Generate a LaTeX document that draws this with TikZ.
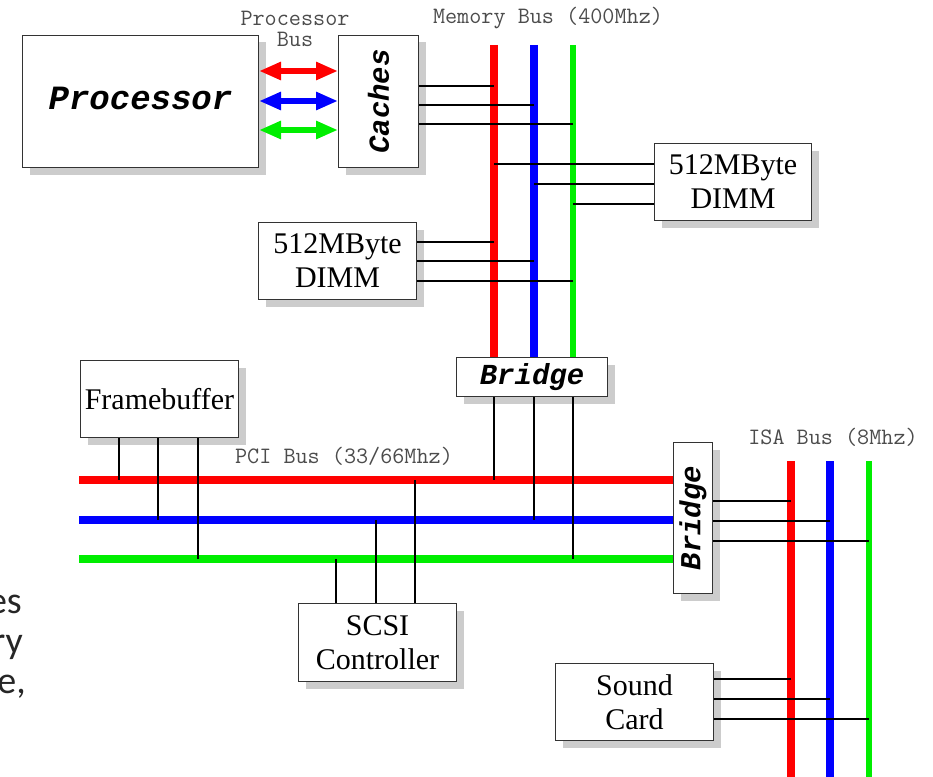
\documentclass[tikz,border=0pt]{standalone}
\usepackage{fontspec}
\setmainfont{Liberation Serif}
\newfontfamily\monofont{Liberation Mono}
\newfontfamily\fragfont{Carlito}
\usetikzlibrary{shadows,arrows.meta}
\pgfdeclarelayer{background}
\pgfsetlayers{background,main}
\definecolor{busred}{RGB}{255,0,0}
\definecolor{busblue}{RGB}{0,0,255}
\definecolor{busgreen}{RGB}{0,238,0}
\begin{document}
\begin{tikzpicture}[x=1pt,y=-1pt,
  box/.style={draw=black!80,line width=1pt,fill=white,inner sep=0pt,anchor=north west,
    drop shadow={shadow xshift=7pt,shadow yshift=-7pt,fill=black!20,opacity=1}},
  titletext/.style={font=\monofont\bfseries\itshape\fontsize{29}{30}\selectfont},
  serif/.style={font=\fontsize{30}{34}\selectfont,align=center},
  lbl/.style={font=\ttfamily\fontsize{23.5}{21}\selectfont,text=black!70,inner sep=0pt,align=center},
  bus/.style={line width=8pt},
  thinbus/.style={line width=5.5pt},
  tap/.style={line width=1.6pt,black},
  biarrow/.style={line width=6pt,{Triangle[length=22pt,width=17pt]}-{Triangle[length=22pt,width=17pt]}},
  frag/.style={font=\fragfont\fontsize{38}{40}\selectfont,text=black!85,anchor=base east,inner sep=0pt}
]
\useasboundingbox (0,0) rectangle (933,776);

% ---------- boxes ----------
\node[box,minimum width=236pt,minimum height=132pt] (proc) at (22,35) {};
\node[titletext,font=\monofont\bfseries\itshape\fontsize{34}{35}\selectfont] (proct) at ([yshift=3pt]proc.center) {Processor};
\node[box,minimum width=80pt,minimum height=132pt] (caches) at (338,35) {};
\node[titletext] (cachest) at (caches.center) {\rotatebox{90}{Caches}};
\node[box,minimum width=157pt,minimum height=77pt] (dimmR) at (654,143) {};
\node[serif] (dimmRt) at (dimmR.center) {512MByte\\DIMM};
\node[box,minimum width=158pt,minimum height=77pt] (dimmL) at (258,222) {};
\node[serif] (dimmLt) at (dimmL.center) {512MByte\\DIMM};
\node[box,minimum width=151pt,minimum height=39pt] (bridgeM) at (456,357) {};
\node[titletext] (bridgeMt) at (bridgeM.center) {Bridge};
\node[box,minimum width=158pt,minimum height=77pt] (fb) at (80,360) {};
\node[serif] (fbt) at (fb.center) {Framebuffer};
\node[box,minimum width=39pt,minimum height=151pt] (bridgeI) at (673,442) {};
\node[titletext] (bridgeIt) at (bridgeI.center) {\rotatebox{90}{Bridge}};
\node[box,minimum width=158pt,minimum height=78pt] (scsi) at (298,603) {};
\node[serif] (scsit) at (scsi.center) {SCSI\\Controller};
\node[box,minimum width=158pt,minimum height=77pt] (sound) at (555,663) {};
\node[serif] (soundt) at (sound.center) {Sound\\Card};

% ---------- labels ----------
\node[lbl] (lproc) at (295,29) {Processor\\Bus};
\node[lbl] (lmem) at (548,18) {Memory Bus (400Mhz)};
\node[lbl] (lpci) at (344,456) {PCI Bus (33/66Mhz)};
\node[lbl] (lisa) at (833,437) {ISA Bus (8Mhz)};

% ---------- partial text at left edge ----------
\node[frag] (f1) at (22,613) {es};
\node[frag] (f2) at (23,653) {ry};
\node[frag] (f3) at (26,693) {e,};

% ---------- bus end points ----------
\coordinate (mR) at (494,45);
\coordinate (mB) at (534,45);
\coordinate (mG) at (573,45);
\coordinate (pR) at (79,480);
\coordinate (pB) at (79,520);
\coordinate (pG) at (79,559);
\coordinate (iR) at (791,461);
\coordinate (iB) at (830,461);
\coordinate (iG) at (869,461);
\coordinate (iRe) at (791,780);
\coordinate (iBe) at (830,780);
\coordinate (iGe) at (869,780);

\begin{pgfonlayer}{background}
  % memory bus
  \draw[bus,busred] (mR) -- (mR |- bridgeM.north);
  \draw[bus,busblue] (mB) -- (mB |- bridgeM.north);
  \draw[thinbus,busgreen] (mG) -- (mG |- bridgeM.north);
  % PCI bus
  \draw[bus,busred] (pR) -- (pR -| bridgeI.west);
  \draw[bus,busblue] (pB) -- (pB -| bridgeI.west);
  \draw[bus,busgreen] (pG) -- (pG -| bridgeI.west);
  % ISA bus
  \draw[bus,busred] (iR) -- (iRe);
  \draw[bus,busblue] (iB) -- (iBe);
  \draw[thinbus,busgreen] (iG) -- (iGe);
\end{pgfonlayer}

% ---------- processor bus arrows ----------
\draw[biarrow,busred] (proc.east |- 0,71) -- (caches.west |- 0,71);
\draw[biarrow,busblue] (proc.east |- 0,101) -- (caches.west |- 0,101);
\draw[biarrow,busgreen] (proc.east |- 0,130) -- (caches.west |- 0,130);

% ---------- taps ----------
\draw[tap] (caches.east |- 0,86) -- (mR |- 0,86);
\draw[tap] (caches.east |- 0,105) -- (mB |- 0,105);
\draw[tap] (caches.east |- 0,124) -- (mG |- 0,124);

\draw[tap] (mR |- 0,164) -- (dimmR.west |- 0,164);
\draw[tap] (mB |- 0,184) -- (dimmR.west |- 0,184);
\draw[tap] (mG |- 0,204) -- (dimmR.west |- 0,204);

\draw[tap] (dimmL.east |- 0,242) -- (mR |- 0,242);
\draw[tap] (dimmL.east |- 0,261) -- (mB |- 0,261);
\draw[tap] (dimmL.east |- 0,281) -- (mG |- 0,281);

\draw[tap] (mR |- bridgeM.south) -- (mR |- pR);
\draw[tap] (mB |- bridgeM.south) -- (mB |- pB);
\draw[tap] (mG |- bridgeM.south) -- (mG |- pG);

\draw[tap] (fb.south -| 119,0) -- (119,0 |- pR);
\draw[tap] (fb.south -| 158,0) -- (158,0 |- pB);
\draw[tap] (fb.south -| 198,0) -- (198,0 |- pG);

\draw[tap] (scsi.north -| 336,0) -- (336,0 |- pG);
\draw[tap] (scsi.north -| 376,0) -- (376,0 |- pB);
\draw[tap] (scsi.north -| 415,0) -- (415,0 |- pR);

\draw[tap] (bridgeI.east |- 0,501) -- (iR |- 0,501);
\draw[tap] (bridgeI.east |- 0,521) -- (iB |- 0,521);
\draw[tap] (bridgeI.east |- 0,541) -- (iG |- 0,541);

\draw[tap] (sound.east |- 0,679) -- (iR |- 0,679);
\draw[tap] (sound.east |- 0,699) -- (iB |- 0,699);
\draw[tap] (sound.east |- 0,719) -- (iG |- 0,719);
\end{tikzpicture}
\end{document}
